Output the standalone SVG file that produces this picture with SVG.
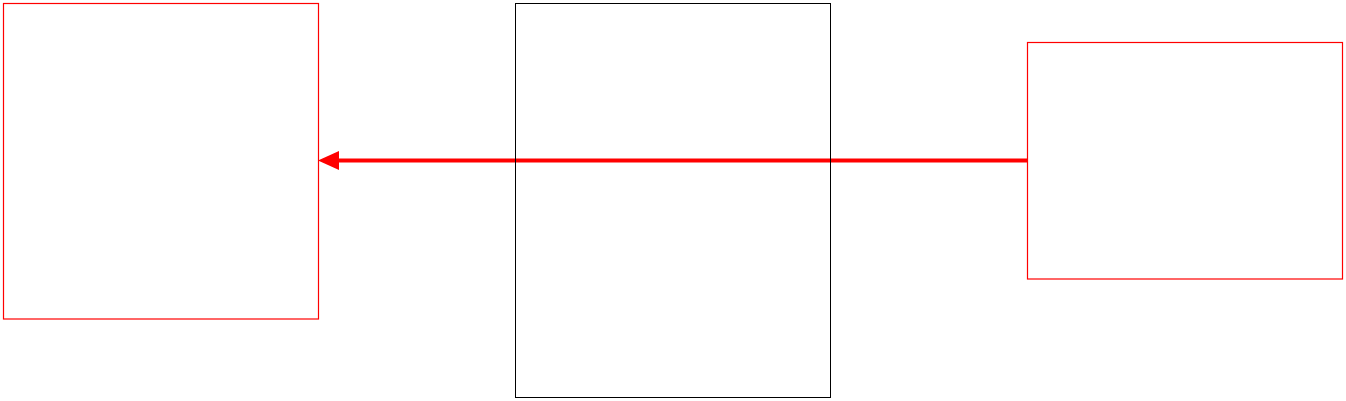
<svg xmlns="http://www.w3.org/2000/svg" width="1346" height="401" viewBox="0 0 1346 401">
<style>
.red{fill:none;stroke:#ff0000;stroke-width:1.2}
.blk{fill:none;stroke:#000000;stroke-width:1}
.conn{fill:none;stroke:#ff0000;stroke-width:4}
</style>
<defs>
<marker id="ah" markerUnits="userSpaceOnUse" markerWidth="21" markerHeight="19" refX="0" refY="9.5" orient="auto" viewBox="0 0 21 19">
<path d="M0,0 L21,9.5 L0,19 Z" fill="#ff0000"/>
</marker>
</defs>
<rect width="1346" height="401" fill="#ffffff"/>
<g id="connectors">
<path class="conn" d="M1028,160.5 L339,160.5" marker-end="url(#ah)"/>
</g>
<g id="nodeLeft"><rect class="red" x="3.5" y="3.5" width="315" height="315.5"/></g>
<g id="nodeMiddle"><rect class="blk" x="515.5" y="3.5" width="315" height="394"/></g>
<g id="nodeRight"><rect class="red" x="1027.5" y="42.5" width="315" height="236.5"/></g>
</svg>
